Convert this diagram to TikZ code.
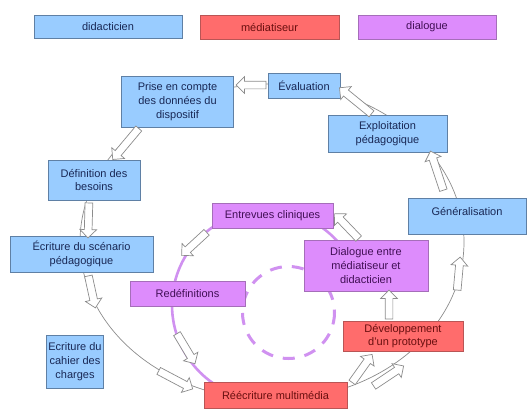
\documentclass[tikz,border=0pt]{standalone}
\usepackage{fontspec}
\setmainfont{Liberation Sans}
\usetikzlibrary{shapes.arrows,calc}
\definecolor{didfill}{RGB}{153,204,255}
\definecolor{didline}{RGB}{95,128,165}
\definecolor{didtext}{RGB}{25,40,85}
\definecolor{medfill}{RGB}{255,108,108}
\definecolor{medline}{RGB}{185,85,85}
\definecolor{medtext}{RGB}{105,15,15}
\definecolor{diafill}{RGB}{221,140,252}
\definecolor{dialine}{RGB}{165,110,185}
\definecolor{diatext}{RGB}{65,15,85}
\definecolor{ringcol}{RGB}{208,145,240}
\definecolor{linegray}{RGB}{140,140,140}
\newcommand\fatarrow[3]{%
  \path let \p1=(#1), \p2=(#2), \n1={veclen(\x2-\x1,\y2-\y1)} in
    (\p1) -- (\p2) node[blockarrow, midway, sloped, allow upside down, minimum height=\n1] (#3) {};}
\begin{document}
\begin{tikzpicture}[x=1pt,y=-1pt,
  font=\fontsize{11}{13.8}\selectfont,
  box/.style={draw, rectangle, inner sep=2pt, align=center, line width=0.8pt},
  did/.style={box, fill=didfill, draw=didline, text=didtext},
  med/.style={box, fill=medfill, draw=medline, text=medtext},
  dia/.style={box, fill=diafill, draw=dialine, text=diatext},
  outerline/.style={draw=linegray, line width=0.7pt},
  ring/.style={draw=ringcol, line width=2.6pt},
  dashring/.style={draw=ringcol, line width=3pt, dash pattern=on 12pt off 10pt},
  blockarrow/.style={single arrow, draw=linegray, fill=white, line width=0.7pt,
    inner xsep=0pt, inner ysep=3.5pt, minimum width=0pt,
    single arrow head extend=4.5pt, single arrow head indent=0pt}]
\useasboundingbox (0,0) rectangle (530,408);

% cycles
\draw[outerline] (272,242) ellipse [x radius=192, y radius=158];
\draw[ring] ($(267,305)+(-40:95)$) arc[start angle=-40, end angle=-300, radius=95];
\draw[dashring] (288.5,312.5) circle[radius=46];

% legend
\node[did, minimum width=148, minimum height=23] (leg1) at (108,26.5) {didacticien};
\node[med, minimum width=139, minimum height=24] (leg2) at (269.5,27) {médiatiseur};
\node[dia, minimum width=138, minimum height=24] (leg3) at (427,27) {dialogue};

% boxes
\node[did, minimum width=112, minimum height=51] (prise) at (177.5,101.5) {Prise en compte\\des données du\\dispositif};
\node[did, minimum width=72, minimum height=25] (eval) at (304,85.5) {Évaluation};
\node[did, minimum width=119, minimum height=37] (exploit) at (387.5,133.5) {Exploitation\\pédagogique};
\node[did, minimum width=92, minimum height=40] (defin) at (94,180) {Définition des\\besoins};
\node[did, minimum width=118, minimum height=36] (general) at (467,216) {\rule[-10pt]{0pt}{0pt}Généralisation};
\node[dia, minimum width=121, minimum height=25] (entrev) at (272.5,215.5) {Entrevues cliniques};
\node[did, minimum width=143, minimum height=36] (scen) at (81.5,254) {Écriture du scénario\\pédagogique};
\node[dia, minimum width=124, minimum height=51] (dialog) at (366,265.5) {Dialogue entre\\médiatiseur et\\didacticien};
\node[dia, minimum width=115, minimum height=25] (redef) at (187.5,293.5) {Redéfinitions};
\node[med, minimum width=120, minimum height=30] (devel) at (403,336) {Développement\\d'un prototype};
\node[did, minimum width=54, minimum height=53] (cahier) at (75,361.5) {Ecriture du\\cahier des\\charges};
\node[med, minimum width=143, minimum height=26] (reecr) at (275.5,395) {Réécriture multimédia};

% arrow end points
\coordinate (t1) at (268,85);   \coordinate (h1) at (238,85);
\coordinate (t2) at (373,115);  \coordinate (h2) at (341,89);
\coordinate (t3) at (444,192);  \coordinate (h3) at (431,153);
\coordinate (t4) at (457,292);  \coordinate (h4) at (460,259);
\coordinate (t5) at (372,387);  \coordinate (h5) at (402,367);
\coordinate (t6) at (351,384);  \coordinate (h6) at (371,356);
\coordinate (t7) at (389,321);  \coordinate (h7) at (389,292);
\coordinate (t8) at (360,240);  \coordinate (h8) at (336,215);
\coordinate (t9) at (208,231);  \coordinate (h9) at (183,254);
\coordinate (t10) at (176,332); \coordinate (h10) at (194,362);
\coordinate (t11) at (140,127); \coordinate (h11) at (114,158);
\coordinate (t12) at (89,201);  \coordinate (h12) at (88,236);
\coordinate (t13) at (88,274);  \coordinate (h13) at (95,306);
\coordinate (t14) at (157,370); \coordinate (h14) at (191,388);

\fatarrow{t1}{h1}{a1}
\fatarrow{t2}{h2}{a2}
\fatarrow{t3}{h3}{a3}
\fatarrow{t4}{h4}{a4}
\fatarrow{t5}{h5}{a5}
\fatarrow{t6}{h6}{a6}
\fatarrow{t7}{h7}{a7}
\fatarrow{t8}{h8}{a8}
\fatarrow{t9}{h9}{a9}
\fatarrow{t10}{h10}{a10}
\fatarrow{t11}{h11}{a11}
\fatarrow{t12}{h12}{a12}
\fatarrow{t13}{h13}{a13}
\fatarrow{t14}{h14}{a14}
\end{tikzpicture}
\end{document}
